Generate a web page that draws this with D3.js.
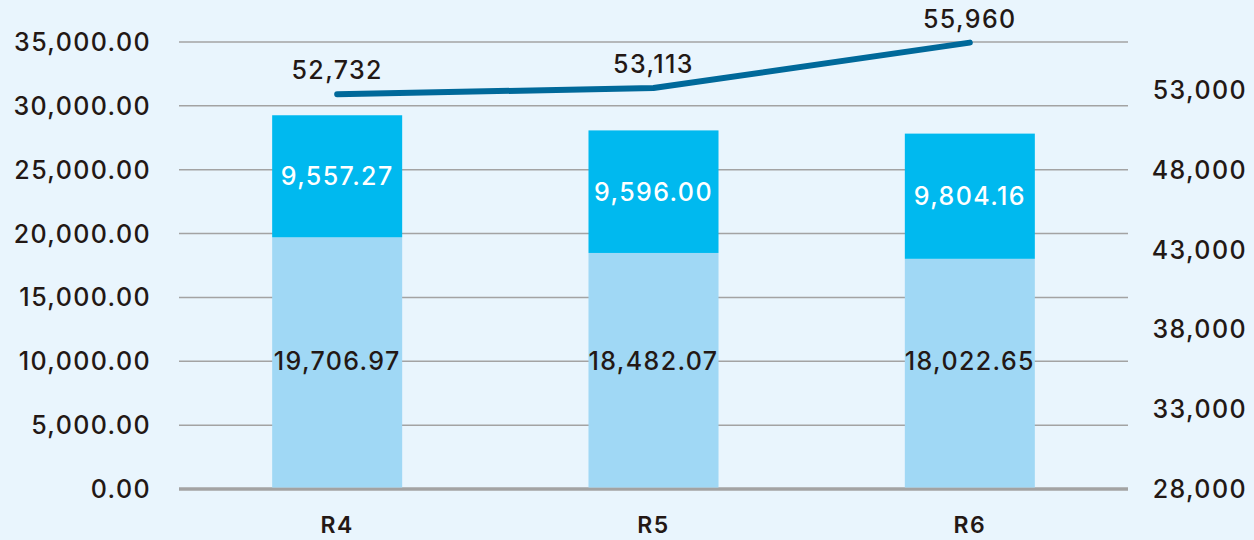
<!DOCTYPE html>
<html>
<head>
<meta charset="utf-8">
<script src="https://cdn.jsdelivr.net/npm/d3@7"></script>
<style>
  html, body { margin: 0; padding: 0; background: #e9f5fd; }
  svg text { font-family: Inter, "Open Sans", sans-serif; fill: #231815; font-weight: 500; letter-spacing: 1.4px; }
</style>
</head>
<body>
<div id="chart"></div>
<script>
// Data
const categories = ["R4", "R5", "R6"];
const baseValues = [19706.97, 18482.07, 18022.65];
const topValues = [9557.27, 9596.00, 9804.16];
const lineValues = [52732, 53113, 55960];
const leftTicks = [0, 5000, 10000, 15000, 20000, 25000, 30000, 35000];
const rightTicks = [28000, 33000, 38000, 43000, 48000, 53000];

const width = 1254;
const height = 540;
const plot = { left: 179, right: 1128, top: 42, bottom: 489 };

const svg = d3.select('#chart')
    .append('svg')
    .attr('width', width)
    .attr('height', height);

svg.append('rect')
    .attr('width', width)
    .attr('height', height)
    .attr('fill', '#e9f5fd');

// Scales
const x = d3.scaleBand()
    .domain(categories)
    .range([plot.left, plot.right])
    .paddingInner(0.589)
    .paddingOuter(0.2945);

const yLeft = d3.scaleLinear()
    .domain([0, 35000])
    .range([plot.bottom, plot.top]);

const yRight = d3.scaleLinear()
    .domain([28000, 56000])
    .range([plot.bottom, plot.top]);

// Grid lines
svg.append('g')
    .selectAll('line')
    .data(leftTicks)
    .join('line')
    .attr('x1', plot.left)
    .attr('x2', plot.right)
    .attr('y1', d => yLeft(d))
    .attr('y2', d => yLeft(d))
    .attr('stroke', '#a3a3a3')
    .attr('stroke-width', d => d === 0 ? 3.5 : 1.5);

// Left axis labels
svg.append('g')
    .selectAll('text')
    .data(leftTicks)
    .join('text')
    .attr('x', 151)
    .attr('y', d => yLeft(d))
    .attr('dy', '0.36em')
    .attr('text-anchor', 'end')
    .style('font-size', '25px')
    .text(d => d3.format(',.2f')(d));

// Right axis labels
svg.append('g')
    .selectAll('text')
    .data(rightTicks)
    .join('text')
    .attr('x', 1247)
    .attr('y', d => yRight(d))
    .attr('dy', '0.36em')
    .attr('text-anchor', 'end')
    .style('font-size', '25px')
    .text(d => d3.format(',')(d));

// Stacked bars
const bars = svg.append('g');
bars.selectAll('rect.base')
    .data(categories)
    .join('rect')
    .attr('class', 'base')
    .attr('x', d => x(d))
    .attr('width', x.bandwidth())
    .attr('y', (d, i) => yLeft(baseValues[i]))
    .attr('height', (d, i) => yLeft(0) - yLeft(baseValues[i]) - 1.5)
    .attr('fill', '#a0d8f5');

bars.selectAll('rect.top')
    .data(categories)
    .join('rect')
    .attr('class', 'top')
    .attr('x', d => x(d))
    .attr('width', x.bandwidth())
    .attr('y', (d, i) => yLeft(baseValues[i] + topValues[i]))
    .attr('height', (d, i) => yLeft(baseValues[i]) - yLeft(baseValues[i] + topValues[i]))
    .attr('fill', '#00b9ef');

// Bar value labels (lower labels sit on a common baseline in the original)
svg.append('g')
    .selectAll('text')
    .data(categories)
    .join('text')
    .attr('x', d => x(d) + x.bandwidth() / 2)
    .attr('y', yLeft(10000))
    .attr('dy', '0.36em')
    .attr('text-anchor', 'middle')
    .style('font-size', '25px')
    .text((d, i) => d3.format(',.2f')(baseValues[i]));

svg.append('g')
    .selectAll('text')
    .data(categories)
    .join('text')
    .attr('x', d => x(d) + x.bandwidth() / 2)
    .attr('y', (d, i) => yLeft(baseValues[i] + topValues[i] / 2))
    .attr('dy', '0.36em')
    .attr('text-anchor', 'middle')
    .style('font-size', '25px')
    .style('fill', '#ffffff')
    .text((d, i) => d3.format(',.2f')(topValues[i]));

// Line on right axis
const line = d3.line()
    .x((d, i) => x(categories[i]) + x.bandwidth() / 2)
    .y(d => yRight(d));

svg.append('path')
    .datum(lineValues)
    .attr('d', line)
    .attr('fill', 'none')
    .attr('stroke', '#00699a')
    .attr('stroke-width', 6)
    .attr('stroke-linecap', 'round')
    .attr('stroke-linejoin', 'round');

svg.append('g')
    .selectAll('text')
    .data(lineValues)
    .join('text')
    .attr('x', (d, i) => x(categories[i]) + x.bandwidth() / 2)
    .attr('y', d => yRight(d) - 24)
    .attr('dy', '0.36em')
    .attr('text-anchor', 'middle')
    .style('font-size', '25px')
    .text(d => d3.format(',')(d));

// Category labels
svg.append('g')
    .selectAll('text')
    .data(categories)
    .join('text')
    .attr('x', d => x(d) + x.bandwidth() / 2)
    .attr('y', 525)
    .attr('dy', '0.36em')
    .attr('text-anchor', 'middle')
    .style('font-size', '23px')
    .style('font-weight', 600)
    .text(d => d);
</script>
</body>
</html>
